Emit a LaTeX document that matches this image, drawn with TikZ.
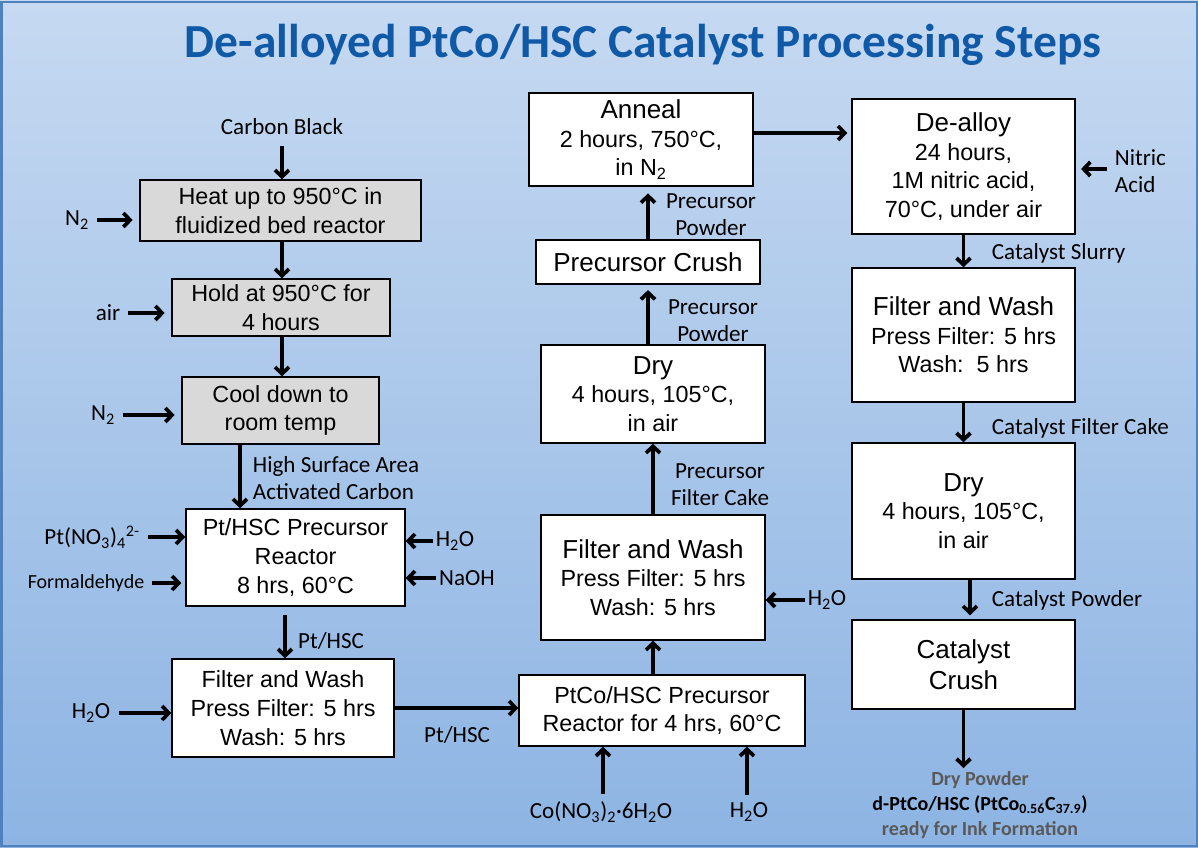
\documentclass[tikz,border=0pt]{standalone}
\usepackage{fontspec}
\setmainfont{Liberation Sans}
\newfontfamily\calib{Carlito}
\usetikzlibrary{arrows.meta}
\definecolor{bgtop}{RGB}{198,217,241}
\definecolor{bgbot}{RGB}{141,180,227}
\definecolor{frameblue}{RGB}{79,129,189}
\definecolor{titleblue}{RGB}{16,89,166}
\definecolor{boxgray}{RGB}{217,217,217}
\definecolor{notegray}{RGB}{89,89,89}
\newcommand{\stephead}[1]{{\fontsize{19.5}{23}\selectfont #1}}

\begin{document}
\begin{tikzpicture}[x=0.75pt,y=-0.75pt,>={Straight Barb[length=5pt,width=10.5pt]},
  flow/.style={->,line width=2.8pt},
  feed/.style={flow,shorten <=4pt},
  stepbox/.style 2 args={draw,line width=1.1pt,fill=white,align=center,inner sep=0pt,
    minimum width=#1*0.75pt,minimum height=#2*0.75pt,font=\fontsize{17.5}{21.5}\selectfont},
  graybox/.style={fill=boxgray},
  lbl/.style={font=\calib\fontsize{17.3}{20.5}\selectfont,inner sep=2pt,align=center},
  smalllbl/.style={lbl,font=\calib\fontsize{15}{18}\selectfont}]
  \useasboundingbox (0,0) rectangle (1198,847);
  % ===================== fondo y titulo =====================
  \shade[top color=bgtop,bottom color=bgbot] (0,0) rectangle (1198,847);
  \draw[frameblue,line width=1.5pt] (1.5,1.5) rectangle (1196.5,845.5);
  \node[font=\calib\bfseries\fontsize{35.6}{40}\selectfont,text=titleblue] (title) at (643,45)
    {De-alloyed PtCo/HSC Catalyst Processing Steps};
  % ===================== carbon activado (izquierda) =====================
  \node[lbl] (carbon) at (282,127) {Carbon Black};
  \node[stepbox={281}{61},graybox] (heat) at (280.5,210.5) {Heat up to 950°C in\\fluidized bed reactor};
  \node[stepbox={218}{57},graybox] (hold) at (281,307.5) {Hold at 950°C for\\4 hours};
  \node[stepbox={197}{67},graybox] (cool) at (280.5,410.5) {Cool down to\\room temp};
  \node[lbl] (nA) at (77,220) {N\textsubscript{2}};
  \node[lbl] (air) at (108,313) {air};
  \node[lbl] (nB) at (103,415) {N\textsubscript{2}};
  \draw[flow,shorten <=6pt] (carbon.south) -- (carbon.south |- heat.north);
  \draw[flow] (heat.south -| 282,0) -- (hold.north -| 282,0);
  \draw[flow] (hold.south -| 282,0) -- (cool.north -| 282,0);
  \draw[feed,shorten >=5pt] (nA) -- (nA -| heat.west);
  \draw[feed,shorten >=5pt] (air) -- (air -| hold.west);
  \draw[feed,shorten >=5pt] (nB) -- (nB -| cool.west);
  % ===================== precursor Pt/HSC =====================
  \node[lbl,anchor=west,align=left] (hsa) at (250,478) {High Surface Area\\Activated Carbon};
  \node[stepbox={219}{97}] (ptr) at (295.5,557.5) {Pt/HSC Precursor\\Reactor\\8 hrs, 60°C};
  \node[lbl] (ptno) at (92,537) {Pt(NO\textsubscript{3})\textsubscript{4}\textsuperscript{2-}};
  \node[smalllbl] (form) at (86,583) {Formaldehyde};
  \node[lbl] (wA) at (455,541) {H\textsubscript{2}O};
  \node[lbl] (naoh) at (467,578) {NaOH};
  \draw[flow] (cool.south -| 240,0) -- (ptr.north -| 240,0);
  \draw[feed] (ptno) -- (ptno -| ptr.west);
  \draw[feed,shorten >=3pt] (form) -- (form -| ptr.west);
  \draw[flow] (wA) -- (wA -| ptr.east);
  \draw[flow] (naoh) -- (naoh -| ptr.east);
  \node[stepbox={222}{98}] (fwA) at (283,708) {Filter and Wash\\Press Filter: 5 hrs\\Wash: 5 hrs};
  \node[lbl] (pthscA) at (331,641) {Pt/HSC};
  \node[lbl] (wB) at (91,713) {H\textsubscript{2}O};
  \draw[flow,shorten <=6pt] (ptr.south -| 285,0) -- (fwA.north -| 285,0);
  \draw[feed] (wB) -- (wB -| fwA.west);
  % ===================== precursor PtCo/HSC (centro) =====================
  \node[stepbox={286}{71}] (ptco) at (662,710.5) {PtCo/HSC Precursor\\Reactor for 4 hrs, 60°C};
  \node[lbl] (pthscB) at (457,735) {Pt/HSC};
  \node[lbl] (co) at (601,812) {Co(NO\textsubscript{3})\textsubscript{2}·6H\textsubscript{2}O};
  \node[lbl] (wC) at (749,812) {H\textsubscript{2}O};
  \draw[flow] (fwA.east) -- (fwA.east -| ptco.west);
  \draw[feed] (co.north -| 603,0) -- (ptco.south -| 603,0);
  \draw[feed] (wC.north -| 747,0) -- (ptco.south -| 747,0);
  \node[stepbox={224}{125}] (fwB) at (653,577.5) {\stephead{Filter and Wash}\\Press Filter: 5 hrs\\Wash: 5 hrs};
  \node[lbl] (wD) at (827,600) {H\textsubscript{2}O};
  \draw[flow] (fwB.south |- ptco.north) -- (fwB.south);
  \draw[flow] (wD) -- (wD -| fwB.east);
  \node[stepbox={224}{98}] (dryA) at (653,394) {\stephead{Dry}\\4 hours, 105°C,\\in air};
  \node[lbl] (pfc) at (720,485) {Precursor\\Filter Cake};
  \draw[flow] (fwB.north) -- (fwB.north |- dryA.south);
  \node[stepbox={224}{44}] (crushA) at (648,262) {\stephead{Precursor Crush}};
  \node[lbl] (ppA) at (713,321) {Precursor\\Powder};
  \draw[flow,shorten >=4pt] (crushA.south |- dryA.north) -- (crushA.south);
  \node[stepbox={224}{93}] (anneal) at (641,139.5) {\stephead{Anneal}\\2 hours, 750°C,\\in N\textsubscript{2}};
  \node[lbl] (ppB) at (711,215) {Precursor\\Powder};
  \draw[flow,shorten >=5pt] (crushA.north) -- (crushA.north |- anneal.south);
  % ===================== catalizador (derecha) =====================
  \node[stepbox={223}{135}] (dealloy) at (963.5,166.5) {\stephead{De-alloy}\\24 hours,\\1M nitric acid,\\70°C, under air};
  \node[lbl,anchor=west,align=left] (nitric) at (1112,171) {Nitric\\Acid};
  \draw[flow,shorten >=3pt] (anneal.east |- 0,133) -- (dealloy.west |- 0,133);
  \draw[feed,shorten >=4pt] (nitric.west |- 0,169) -- (dealloy.east |- 0,169);
  \node[stepbox={223}{134}] (fwC) at (963.5,335) {\stephead{Filter and Wash}\\Press Filter: 5 hrs\\Wash:\ \ 5 hrs};
  \node[lbl,anchor=west] (slurry) at (989,253) {Catalyst Slurry};
  \draw[flow] (dealloy.south) -- (fwC.north);
  \node[stepbox={223}{136}] (dryB) at (963.5,511) {\stephead{Dry}\\4 hours, 105°C,\\in air};
  \node[lbl,anchor=west] (cfc) at (989,428) {Catalyst Filter Cake};
  \draw[flow] (fwC.south) -- (dryB.north);
  \node[stepbox={223}{89}] (crushB) at (963.5,664.5) {\stephead{Catalyst}\\[2pt]\stephead{Crush}};
  \node[lbl,anchor=west] (cpow) at (989,600) {Catalyst Powder};
  \draw[flow,shorten >=3pt] (dryB.south -| 970,0) -- (crushB.north -| 970,0);
  \coordinate (out) at (963.5,768);
  \draw[flow] (crushB.south) -- (out);
  \node[font=\calib\bfseries\fontsize{15}{18.75}\selectfont,align=center] (product) at (980,805)
    {\textcolor{notegray}{Dry Powder}\\d-PtCo/HSC (PtCo\textsubscript{0.56}C\textsubscript{37.9})\\\textcolor{notegray}{ready for Ink Formation}};
\end{tikzpicture}
\end{document}
